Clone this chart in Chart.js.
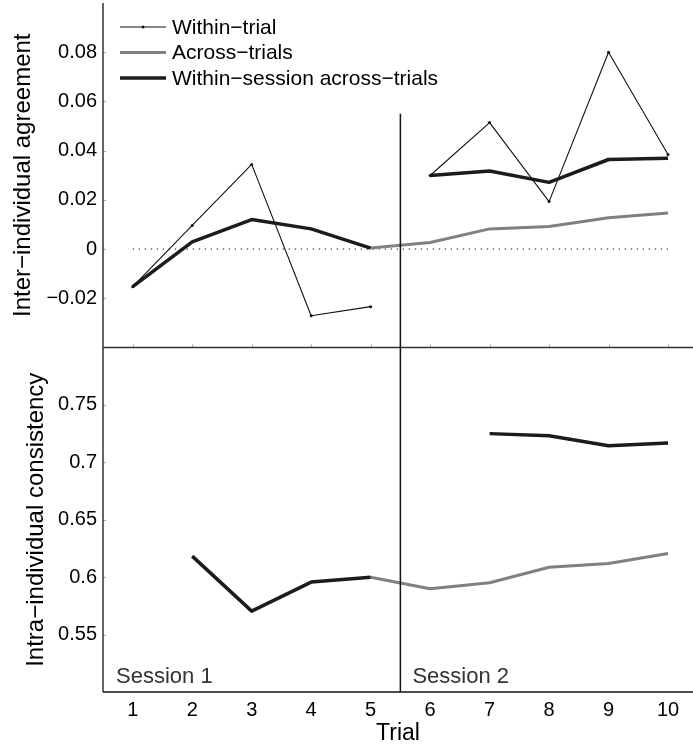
<!DOCTYPE html>
<html><head><meta charset="utf-8">
<script src="https://cdn.jsdelivr.net/npm/chart.js@4.4.1/dist/chart.umd.min.js"></script>
<style>html,body{margin:0;padding:0;background:#fff;} #c{display:block;}</style>
</head><body>
<canvas id="c" width="693" height="747"></canvas>
<script>
const trials = [1,2,3,4,5,6,7,8,9,10];
const withinTrialAgreement = [-0.0153,0.0096,0.0344,-0.0271,-0.0234,0.0299,0.0514,0.0193,0.0800,0.0384];
const withinSessionAgreement = [-0.0153,0.0029,0.0120,0.0082,0.0004,0.0299,0.0317,0.0271,0.0364,0.0369];
const acrossTrialsAgreement = [null,null,null,null,0.0004,0.0027,0.0082,0.0092,0.0127,0.0147];
const withinSessionConsistency = [null,0.6183,0.5704,0.5957,0.6000,null,0.7250,0.7232,0.7145,0.7169];
const acrossTrialsConsistency = [null,null,null,null,0.6000,0.5899,0.5951,0.6087,0.6119,0.6206];
const agreementTicks = [-0.02,0,0.02,0.04,0.06,0.08];
const consistencyTicks = [0.55,0.6,0.65,0.7,0.75];
const seriesLabels = ['Within\u2212trial','Across\u2212trials','Within\u2212session across\u2212trials'];
const sessionLabels = ['Session 1','Session 2'];
const sessionBoundary = 5.5;
const dividerTopValue = 0.055;
const lastIndexSession1 = 4;

const FONT = "'Liberation Sans', Arial, Helvetica, sans-serif";
Chart.defaults.font.family = FONT;
Chart.defaults.color = '#000';

const pts = arr => trials.map((t,i) => ({x:t, y:arr[i]}));
const breakSession = {borderColor: ctx => ctx.p0DataIndex === lastIndexSession1 ? 'rgba(0,0,0,0)' : undefined};

const STY = {
  thin: {color:'#111', width:1.1},
  gray: {color:'#808080', width:3},
  thick:{color:'#1c1c1c', width:3.5}
};

const fmt = v => (v < 0 ? '\u2212' : '') + String(Math.abs(v));
const fitY = s => { s.width = 103; s.paddingTop = 0; s.paddingBottom = 0; };

const decor = {
  id:'decor',
  beforeDatasetsDraw(chart){
    const {ctx, scales:{x,y1}} = chart;
    ctx.save();
    ctx.strokeStyle = '#000'; ctx.lineWidth = 1; ctx.setLineDash([1.2,4.8]);
    const yz = y1.getPixelForValue(0);
    ctx.beginPath();
    ctx.moveTo(x.getPixelForValue(trials[0]), yz);
    ctx.lineTo(x.getPixelForValue(trials[trials.length-1]), yz);
    ctx.stroke();
    ctx.restore();
  },
  afterDatasetsDraw(chart){
    const {ctx, chartArea:a, scales:{x,y1,y2}} = chart;
    ctx.save();
    // inner ticks
    ctx.strokeStyle = '#aaa'; ctx.lineWidth = 1;
    trials.forEach(t => {
      const px = Math.round(x.getPixelForValue(t)) + 0.5;
      ctx.beginPath(); ctx.moveTo(px, y1.bottom); ctx.lineTo(px, y1.bottom - 3); ctx.stroke();
    });
    agreementTicks.forEach(v => {
      const py = Math.round(y1.getPixelForValue(v)) + 0.5;
      ctx.beginPath(); ctx.moveTo(a.left, py); ctx.lineTo(a.left + 3, py); ctx.stroke();
    });
    consistencyTicks.forEach(v => {
      const py = Math.round(y2.getPixelForValue(v)) + 0.5;
      ctx.beginPath(); ctx.moveTo(a.left, py); ctx.lineTo(a.left + 3, py); ctx.stroke();
    });
    // axis lines
    ctx.strokeStyle = '#333'; ctx.lineWidth = 1.5;
    ctx.beginPath(); ctx.moveTo(a.left, a.top); ctx.lineTo(a.left, a.bottom); ctx.stroke();
    ctx.beginPath(); ctx.moveTo(a.left, y1.bottom); ctx.lineTo(a.right, y1.bottom); ctx.stroke();
    ctx.strokeStyle = '#111';
    ctx.beginPath(); ctx.moveTo(a.left, a.bottom); ctx.lineTo(a.right, a.bottom); ctx.stroke();
    // session boundary
    const xb = x.getPixelForValue(sessionBoundary);
    ctx.lineWidth = 1.5; ctx.strokeStyle = '#111';
    ctx.beginPath(); ctx.moveTo(xb, y1.getPixelForValue(dividerTopValue)); ctx.lineTo(xb, a.bottom); ctx.stroke();
    // session labels
    ctx.fillStyle = '#333'; ctx.font = '22px ' + FONT; ctx.textBaseline = 'alphabetic'; ctx.textAlign = 'left';
    ctx.fillText(sessionLabels[0], a.left + 13, a.bottom - 9);
    ctx.fillText(sessionLabels[1], xb + 12, a.bottom - 9);
    // legend
    const styles = [STY.thin, STY.gray, STY.thick];
    ctx.font = '21px ' + FONT; ctx.fillStyle = '#000'; ctx.textBaseline = 'middle';
    styles.forEach((s,i) => {
      const yy = a.top + 24 + i*25.5;
      ctx.strokeStyle = s.color; ctx.lineWidth = s.width;
      ctx.beginPath(); ctx.moveTo(a.left + 17, yy); ctx.lineTo(a.left + 63, yy); ctx.stroke();
      if (i === 0) { ctx.fillStyle = s.color; ctx.beginPath(); ctx.arc(a.left + 40, yy, 1.5, 0, Math.PI*2); ctx.fill(); ctx.fillStyle = '#000'; }
      ctx.fillText(seriesLabels[i], a.left + 69, yy + 1);
    });
    ctx.restore();
  }
};

new Chart(document.getElementById('c'), {
  type: 'line',
  data: {
    datasets: [
      {label: seriesLabels[0], data: pts(withinTrialAgreement), yAxisID:'y1', borderColor:STY.thin.color, borderWidth:STY.thin.width,
       pointRadius:1.5, pointBackgroundColor:STY.thin.color, pointBorderWidth:0, segment: breakSession, order:1},
      {label: seriesLabels[2], data: pts(withinSessionAgreement), yAxisID:'y1', borderColor:STY.thick.color, borderWidth:STY.thick.width,
       pointRadius:0, segment: breakSession, order:2},
      {label: seriesLabels[1], data: pts(acrossTrialsAgreement), yAxisID:'y1', borderColor:STY.gray.color, borderWidth:STY.gray.width,
       pointRadius:0, order:3},
      {label: seriesLabels[2], data: pts(withinSessionConsistency), yAxisID:'y2', borderColor:STY.thick.color, borderWidth:STY.thick.width,
       pointRadius:0, order:2},
      {label: seriesLabels[1], data: pts(acrossTrialsConsistency), yAxisID:'y2', borderColor:STY.gray.color, borderWidth:STY.gray.width,
       pointRadius:0, order:3}
    ]
  },
  options: {
    responsive:false, animation:false, devicePixelRatio:1,
    layout:{autoPadding:false, padding:{top:3,right:0,bottom:0,left:0}},
    plugins:{legend:{display:false}, tooltip:{enabled:false}},
    elements:{line:{tension:0, borderCapStyle:'butt', borderJoinStyle:'round'}},
    scales:{
      x:{type:'linear', position:'bottom', min:0.5, max:10.42,
         grid:{display:false, drawTicks:false}, border:{display:false},
         afterBuildTicks: s => { s.ticks = trials.map(v => ({value:v})); },
         ticks:{font:{size:20}, padding:6, color:'#000', maxRotation:0},
         title:{display:true, text:'Trial', font:{size:23}, padding:{top:0,bottom:0}, color:'#000'},
         afterFit: s => { s.height = 55; s.paddingLeft = 0; s.paddingRight = 0; }},
      y2:{type:'linear', position:'left', stack:'panels', stackWeight:1, min:0.5, max:0.8,
          grid:{display:false, drawTicks:false}, border:{display:false},
          afterBuildTicks: s => { s.ticks = consistencyTicks.map(v => ({value:v})); },
          ticks:{font:{size:20}, padding:6, color:'#000', callback: v => fmt(v)},
          title:{display:true, text:'Intra\u2212individual consistency', font:{size:24}, padding:{top:22,bottom:0}, color:'#000'},
          afterFit: fitY},
      y1:{type:'linear', position:'left', stack:'panels', stackWeight:1, min:-0.04, max:0.1,
          grid:{display:false, drawTicks:false}, border:{display:false},
          afterBuildTicks: s => { s.ticks = agreementTicks.map(v => ({value:v})); },
          ticks:{font:{size:20}, padding:6, color:'#000', callback: v => fmt(v)},
          title:{display:true, text:'Inter\u2212individual agreement', font:{size:24}, padding:{top:9,bottom:0}, color:'#000'},
          afterFit: fitY}
    }
  },
  plugins:[decor]
});
</script>
</body></html>
